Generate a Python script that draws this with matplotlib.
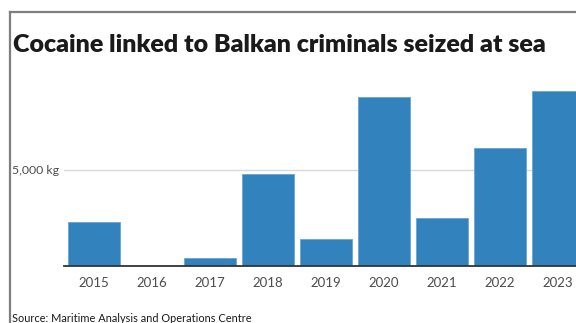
import matplotlib
matplotlib.use("Agg")
import matplotlib.pyplot as plt
from matplotlib.lines import Line2D

years = ["2015", "2016", "2017", "2018", "2019", "2020", "2021", "2022", "2023"]
seized_kg = [2300, 0, 400, 4800, 1400, 8800, 2500, 6150, 9100]
ytick_vals = [5000]
ytick_labels = ["5,000 kg"]

W, H = 576, 323
fig = plt.figure(figsize=(W / 100, H / 100), dpi=100)
fig.patch.set_facecolor("white")

# gray frame (top and left edge, rest is cropped)
fig.add_artist(Line2D([10 / W, 10 / W], [0, 1 - 12 / H], color="#7f7f7f", lw=1.6))
fig.add_artist(Line2D([10 / W, 1], [1 - 12 / H, 1 - 12 / H], color="#7f7f7f", lw=1.6))

fig.text(13 / W, 1 - 45 / H, "Cocaine linked to Balkan criminals seized at sea",
         fontsize=18, fontweight="heavy", family="Lato", color="#1a1a1a",
         ha="left", va="center")

ax = fig.add_axes([64 / W, (H - 266) / H, (W - 64) / W, (266 - 85) / H])
x = list(range(len(years)))
ax.bar(x, seized_kg, width=0.9, color="#3182bd", edgecolor="#6aa5d4", linewidth=0.6, zorder=3)
ax.set_xlim(-0.52, 8.31)
ax.set_ylim(0, 9430)

for s in ["top", "right", "left"]:
    ax.spines[s].set_visible(False)
ax.spines["bottom"].set_color("#333333")
ax.spines["bottom"].set_linewidth(1.3)
ax.spines["bottom"].set_zorder(4)

ax.set_xticks(x)
ax.set_xticklabels(years, family="Lato", fontsize=9.5, color="#4d4d4d")
ax.tick_params(axis="x", length=0, pad=8)
ax.set_yticks(ytick_vals)
ax.set_yticklabels([])
ax.tick_params(axis="y", length=0)
ax.grid(axis="y", color="#d9d9d9", lw=1, zorder=0)

for v, lab in zip(ytick_vals, ytick_labels):
    fig.text(12 / W, (H - 266) / H + v / 9430 * (266 - 85) / H, lab,
             family="Lato", fontsize=8.8, color="#4d4d4d", ha="left", va="center")

fig.text(12 / W, 1 - 318 / H, "Source: Maritime Analysis and Operations Centre",
         family="Lato", fontsize=7.9, color="#1a1a1a", ha="left", va="center")

fig.savefig("out.png", dpi=100)
